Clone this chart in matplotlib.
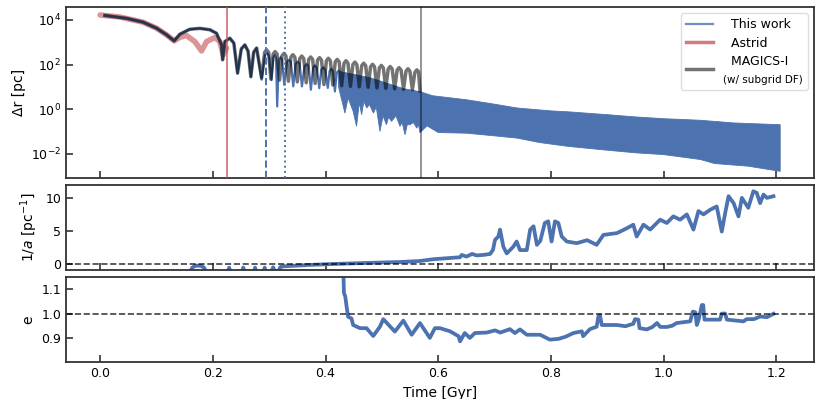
import numpy as np
import matplotlib
matplotlib.use("Agg")
import matplotlib.pyplot as plt
from matplotlib.lines import Line2D
from matplotlib.ticker import NullLocator

plt.rcParams['font.family'] = ['DejaVu Sans']
plt.rcParams['mathtext.fontset'] = 'dejavusans'

# ---- data (times in Gyr, separations as log10(pc)) ----

# Astrid
astrid_t = [0.000, 0.035, 0.076, 0.100, 0.118, 0.1314, 0.1415, 0.1533, 0.168, 0.180,
            0.189, 0.2036, 0.2125, 0.2184, 0.2244]
astrid_logdr = [4.22, 4.13, 3.90, 3.63, 3.33, 3.06, 3.22, 3.30, 3.03, 2.61,
                3.03, 3.21, 3.03, 2.43, 2.73]

# early orbit, where "This work" and MAGICS-I coincide
early_t = [0.0085, 0.047, 0.076, 0.100, 0.118, 0.1314, 0.1415, 0.159, 0.177, 0.1947,
           0.2066, 0.2155, 0.2173, 0.2214, 0.2302, 0.2373, 0.2439, 0.2505, 0.2569,
           0.2625, 0.2675, 0.2725, 0.2777]
early_logdr = [4.20, 4.07, 3.90, 3.63, 3.33, 3.06, 3.36, 3.58, 3.62, 3.56,
               3.40, 2.88, 2.21, 3.03, 3.18, 2.96, 1.61, 2.70, 2.88,
               2.60, 1.45, 2.55, 2.74]

# This work: resolved orbit before it gets too dense to separate
work_t = [0.2865, 0.2925, 0.2959, 0.2995, 0.3042, 0.3075, 0.3100, 0.3122, 0.3142,
          0.3170, 0.3200, 0.3230, 0.3267, 0.3315, 0.3350, 0.3385, 0.3427, 0.3470,
          0.3504, 0.3540, 0.3581, 0.3628, 0.3664, 0.3700, 0.3740, 0.3780, 0.3811,
          0.3845, 0.3888, 0.3925, 0.3959, 0.3995, 0.4040, 0.4072, 0.4100, 0.4130,
          0.4166, 0.4200, 0.4230]
work_logdr = [1.32, 2.42, 2.52, 2.40, 1.30, 2.32, 2.42, 2.30, 0.12,
              2.20, 2.32, 2.22, 1.09, 2.11, 2.21, 2.11, 1.02, 2.03,
              2.13, 2.03, 1.02, 1.92, 2.02, 1.92, 0.87, 1.86, 1.96,
              1.86, 0.94, 1.77, 1.87, 1.77, 0.95, 1.70, 1.80, 1.70,
              0.79, 1.64, 1.72]

# This work: envelope of the unresolved oscillation
band_hi_t = [0.423, 0.43, 0.45, 0.48, 0.508, 0.538, 0.5675, 0.59, 0.65, 0.70, 0.74,
             0.80, 0.83, 0.90, 0.95, 1.00, 1.065, 1.124, 1.2066]
band_hi = [1.72, 1.66, 1.56, 1.40, 1.17, 0.92, 0.78, 0.60, 0.42, 0.22, 0.05,
           -0.08, -0.12, -0.25, -0.35, -0.43, -0.50, -0.62, -0.70]
band_lo_t = [0.423, 0.4344, 0.44, 0.449, 0.455, 0.46, 0.464, 0.468, 0.473, 0.478,
             0.485, 0.49, 0.4965, 0.502, 0.508, 0.512, 0.517, 0.525, 0.532, 0.536,
             0.541, 0.545, 0.55, 0.556, 0.5617, 0.565, 0.5675, 0.58, 0.60, 0.65,
             0.70, 0.74, 0.78, 0.83, 0.89, 0.95, 1.00, 1.065, 1.09, 1.15, 1.2066]
band_lo = [1.0, -0.18, 0.5, -0.10, -0.77, 0.3, -0.25, 0.35, 0.05, 0.2,
           -0.18, 0.1, -1.0, -0.3, -0.70, -0.35, -0.55, -0.3, -0.77, -0.6,
           -1.15, -0.7, -0.70, -0.6, -0.85, -0.7, -1.06, -0.75, -1.05, -1.08,
           -1.20, -1.30, -1.50, -1.67, -1.82, -1.96, -2.04, -2.26, -2.44, -2.56, -2.79]

# MAGICS-I after it departs from this work
magics_t = [0.2866, 0.2920, 0.2954, 0.2990, 0.3030, 0.3070, 0.3105, 0.3140,
            0.3184, 0.3227, 0.3262, 0.3297, 0.3341, 0.3385, 0.3420, 0.3455,
            0.3499, 0.3543, 0.3578, 0.3613, 0.3657, 0.3701, 0.3736, 0.3771,
            0.3815, 0.3858, 0.3893, 0.3928, 0.3972, 0.4015, 0.4050, 0.4085,
            0.4129, 0.4172, 0.4207, 0.4242, 0.4285, 0.4328, 0.4363, 0.4398,
            0.4442, 0.4485, 0.4520, 0.4555, 0.4598, 0.4642, 0.4677, 0.4712,
            0.4755, 0.4799, 0.4834, 0.4869, 0.4912, 0.4955, 0.4990, 0.5025,
            0.5069, 0.5112, 0.5147, 0.5182, 0.5226, 0.5270, 0.5305, 0.5340,
            0.5384, 0.5427, 0.5462, 0.5497, 0.5541, 0.5585, 0.5620, 0.5650,
            0.5675]
magics_logdr = [1.40, 2.55, 2.66, 2.55, 1.35, 2.47, 2.58, 2.47,
                1.30, 2.39, 2.50, 2.39, 1.25, 2.33, 2.44, 2.33,
                1.22, 2.27, 2.38, 2.27, 1.18, 2.23, 2.34, 2.23,
                1.15, 2.20, 2.31, 2.20, 1.10, 2.17, 2.28, 2.17,
                1.08, 2.12, 2.23, 2.12, 1.05, 2.06, 2.17, 2.06,
                1.02, 2.00, 2.11, 2.00, 1.00, 1.95, 2.06, 1.95,
                0.98, 1.90, 2.01, 1.90, 0.95, 1.85, 1.96, 1.85,
                0.93, 1.80, 1.91, 1.80, 0.91, 1.75, 1.86, 1.75,
                0.89, 1.70, 1.81, 1.70, 0.87, 1.65, 1.76, 1.68,
                0.82]

# event times
t_astrid_merge = 0.2244
t_dashed = 0.2936
t_dotted = 0.3273
t_magics_merge = 0.5688

# inverse semi-major axis [1/pc]
inva_t = [0.155, 0.163, 0.168, 0.174, 0.180, 0.185, 0.192,
          0.222, 0.229, 0.236, 0.247, 0.254, 0.261, 0.269, 0.275, 0.281,
          0.287, 0.292, 0.297, 0.302, 0.307, 0.312, 0.316, 0.320, 0.325,
          0.337, 0.37, 0.4136, 0.45, 0.49, 0.532, 0.5675, 0.591, 0.615,
          0.6386, 0.6415, 0.650, 0.660, 0.668, 0.680, 0.692, 0.697, 0.7007,
          0.7066, 0.7096, 0.7155, 0.7214, 0.733, 0.739, 0.745, 0.757, 0.763,
          0.769, 0.775, 0.781, 0.789, 0.795, 0.801, 0.807, 0.813, 0.819,
          0.828, 0.8457, 0.864, 0.881, 0.893, 0.917, 0.9345, 0.946, 0.952,
          0.964, 0.976, 0.9936, 1.0055, 1.017, 1.029, 1.041, 1.0527, 1.0616,
          1.0705, 1.0824, 1.094, 1.103, 1.109, 1.115, 1.124, 1.1326, 1.1386,
          1.150, 1.159, 1.165, 1.171, 1.177, 1.183, 1.1947]
inva = [-2.5, -0.6, -0.3, -0.25, -0.3, -0.6, -2.5,
        -2.5, -0.55, -2.5, -2.5, -0.55, -2.5, -2.5, -0.55, -2.5,
        -2.0, -0.55, -2.0, -1.5, -0.5, -1.5, -1.2, -0.45, -0.35,
        -0.3, -0.15, 0.0, 0.1, 0.2, 0.3, 0.45, 0.72, 0.87,
        1.02, 1.37, 1.12, 1.52, 1.30, 1.37, 1.52, 2.13, 3.65,
        4.16, 5.2, 2.6, 1.6, 2.6, 3.4, 2.1, 2.1, 5.2,
        5.7, 2.9, 3.5, 6.2, 6.45, 3.4, 6.45, 6.2, 4.16,
        3.4, 3.15, 3.6, 2.9, 4.4, 4.67, 5.4, 5.94, 4.16,
        5.94, 5.2, 6.7, 6.2, 7.2, 6.7, 7.5, 5.2, 8.0,
        7.5, 8.2, 8.7, 4.9, 7.7, 10.25, 9.2, 7.2, 10.0,
        8.5, 11.0, 10.75, 9.2, 10.5, 10.0, 10.25]

# eccentricity
ecc_t = [0.4314, 0.4326, 0.4350, 0.4374, 0.440, 0.446, 0.449, 0.461, 0.4727, 0.4846,
         0.4965, 0.5024, 0.523, 0.538, 0.5528, 0.5675, 0.585, 0.594, 0.603, 0.621,
         0.636, 0.6386, 0.647, 0.656, 0.665, 0.686, 0.7007, 0.71, 0.727, 0.736,
         0.745, 0.757, 0.7806, 0.798, 0.813, 0.826, 0.8397, 0.8546, 0.857, 0.869,
         0.881, 0.884, 0.887, 0.89, 0.9167, 0.932, 0.946, 0.949, 0.955, 0.957,
         0.970, 0.980, 0.988, 0.994, 1.0055, 1.015, 1.023, 1.047, 1.0516, 1.0560,
         1.0587, 1.062, 1.0676, 1.0700, 1.0723, 1.100, 1.103, 1.109, 1.112, 1.1415,
         1.147, 1.160, 1.171, 1.183, 1.1947]
ecc = [1.20, 1.085, 1.07, 1.028, 0.987, 0.98, 0.953, 0.94, 0.94, 0.908,
       0.946, 0.977, 0.926, 0.971, 0.913, 0.961, 0.90, 0.94, 0.94, 0.927,
       0.907, 0.886, 0.92, 0.90, 0.92, 0.922, 0.931, 0.922, 0.936, 0.92,
       0.935, 0.913, 0.913, 0.893, 0.896, 0.905, 0.92, 0.927, 0.907, 0.936,
       0.946, 0.988, 0.993, 0.953, 0.953, 0.948, 0.958, 0.977, 0.975, 0.94,
       0.935, 0.945, 0.961, 0.945, 0.945, 0.950, 0.961, 0.968, 1.008, 1.005,
       0.953, 0.975, 1.035, 1.035, 0.975, 0.975, 1.0, 1.0, 0.975, 0.968,
       0.977, 0.977, 0.988, 0.985, 0.999]

# ---- styling ----
BLUE = '#4C72B0'
RED = '#C44E52'
SPINE = '#333333'

fig, axes = plt.subplots(3, 1, figsize=(8.3, 3.99), dpi=100, sharex=True,
                         gridspec_kw={'height_ratios': [2, 1, 1]})
fig.subplots_adjust(left=0.0795, right=0.981, top=0.9825, bottom=0.092, hspace=0.062)
ax1, ax2, ax3 = axes

# ---- top: separation ----
ax1.plot(astrid_t, np.power(10.0, astrid_logdr), color=RED, alpha=0.6, lw=4,
         solid_capstyle='round', zorder=2)

work_line_t = early_t + work_t
work_line_v = early_logdr + work_logdr
ax1.plot(work_line_t, np.power(10.0, work_line_v), color=BLUE, lw=1.6, zorder=3)
poly_t = np.concatenate([band_hi_t, band_lo_t[::-1]])
poly_v = np.concatenate([band_hi, band_lo[::-1]])
ax1.fill(poly_t, np.power(10.0, poly_v), color=BLUE, lw=0.6, zorder=3)

magics_line_t = early_t + magics_t
magics_line_v = early_logdr + magics_logdr
ax1.plot(magics_line_t, np.power(10.0, magics_line_v), color='k', alpha=0.55, lw=2.5,
         zorder=4)

ax1.axvline(t_astrid_merge, color=RED, alpha=0.75, lw=1.3, zorder=5)
ax1.axvline(t_dashed, color=BLUE, ls='--', lw=1.4, zorder=5)
ax1.axvline(t_dotted, color=BLUE, ls=':', lw=1.4, zorder=5)
ax1.axvline(t_magics_merge, color='k', alpha=0.45, lw=1.3, zorder=5)

ax1.set_yscale('log')
ax1.set_ylim(8.5e-4, 3.8e4)
ax1.set_yticks([1e-2, 1e0, 1e2, 1e4])
ax1.yaxis.set_minor_locator(NullLocator())
ax1.set_ylabel('Δr [pc]', fontsize=10)

# legend: fourth row carries the small "(w/ subgrid DF)" note for MAGICS-I
handles = [Line2D([], [], color=BLUE, lw=1.6, alpha=0.8),
           Line2D([], [], color=RED, lw=2.5, alpha=0.75),
           Line2D([], [], color='k', lw=2.5, alpha=0.55),
           Line2D([], [], color='none', lw=0)]
labels = ['  This work', '  Astrid', '  MAGICS-I', '(w/ subgrid DF)']
leg = ax1.legend(handles, labels, loc='upper right', fontsize=9, handlelength=2.2,
                 framealpha=1.0, edgecolor='#dddddd', labelspacing=0.45)
leg.get_texts()[3].set_fontsize(7.5)
magics_handle = leg.legend_handles[2]
magics_handle.set_ydata(np.asarray(magics_handle.get_ydata()) - 6.0)

# ---- middle: 1/a ----
ax2.plot(inva_t, inva, color=BLUE, lw=2.7)
ax2.axhline(0.0, color='k', alpha=0.75, ls='--', lw=1.2)
ax2.set_ylim(-0.9, 12.0)
ax2.set_yticks([0, 5, 10])
ax2.set_ylabel(r'1/$a$ [pc$^{-1}$]', fontsize=10)

# ---- bottom: eccentricity ----
ax3.plot(ecc_t, ecc, color=BLUE, lw=2.7)
ax3.axhline(1.0, color='k', alpha=0.75, ls='--', lw=1.2)
ax3.set_ylim(0.8, 1.15)
ax3.set_yticks([0.9, 1.0, 1.1])
ax3.set_ylabel('e', fontsize=10)
ax3.set_xlabel('Time [Gyr]', fontsize=10)
ax3.set_xlim(-0.0605, 1.267)
ax3.set_xticks([0.0, 0.2, 0.4, 0.6, 0.8, 1.0, 1.2])

for ax in axes:
    for sp in ax.spines.values():
        sp.set_color(SPINE)
        sp.set_linewidth(1.3)
    ax.tick_params(direction='in', length=5, width=1.2, color=SPINE, labelsize=9)

fig.savefig('out.png', dpi=100)
